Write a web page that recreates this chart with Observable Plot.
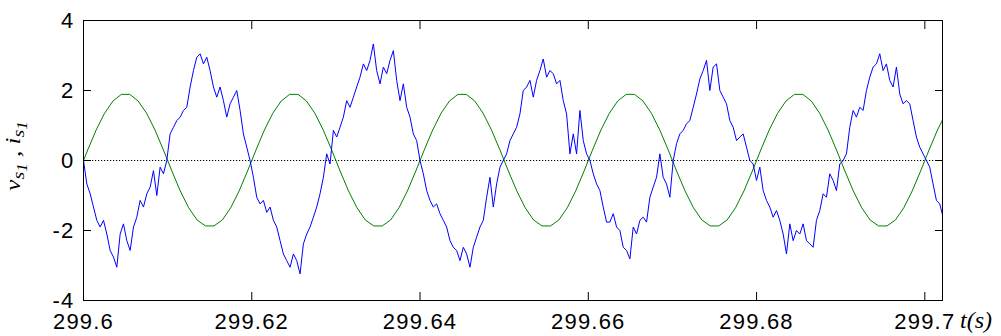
<!DOCTYPE html>
<html>
<head>
<meta charset="utf-8">
<script src="https://cdn.jsdelivr.net/npm/d3@7"></script>
<script src="https://cdn.jsdelivr.net/npm/@observablehq/plot@0.6"></script>
<style>
  html, body { margin: 0; padding: 0; background: #fff; }
  #chart svg { display: block; }
</style>
</head>
<body>
<div id="chart"></div>
<script>
// ---- tick values / labels ----
const xTicks = [299.6, 299.62, 299.64, 299.66, 299.68, 299.7];
const xTickLabels = ["299.6", "299.62", "299.64", "299.66", "299.68", "299.7"];
const yTicks = [-4, -2, 0, 2, 4];
const yTickLabels = ["-4", "-2", "0", "2", "4"];

// ---- sampling grids (time, s) ----
const blueStart = 299.6, blueStep = 0.000396;
const greenStart = 299.5995, greenStep = 0.001;

// ---- i_s1 : blue noisy current ----
const blueValues = [
  0, -0.67, -0.95, -1.33, -1.71, -1.90, -1.71, -2.10, -2.57, -2.76,
  -3.05, -2.10, -1.81, -2.29, -2.57, -1.90, -1.62, -1.14, -1.33, -0.95,
  -0.76, -0.29, -1.00, -0.19, -0.38, 0.00,
  0.76, 0.95, 1.14, 1.24, 1.43, 1.52, 2.10, 2.57, 2.95, 3.05,
  2.76, 2.95, 2.57, 2.10, 1.81, 2.10, 1.71, 1.24, 1.62, 1.81,
  2.00, 1.43, 0.76, 0.38, 0.00, -0.48, -1.05, -1.24, -1.14, -1.48,
  -1.33, -1.71, -1.90, -2.29, -2.67, -2.86, -3.05, -2.67, -2.86, -3.24,
  -2.38, -2.10, -1.90, -1.62, -1.33, -0.95, -0.48, 0.19,
  -0.10, 0.86, 0.67, 0.95, 1.24, 1.71, 1.52, 1.81, 2.10, 2.38,
  2.76, 2.57, 2.86, 3.33, 2.57, 2.19, 2.67, 2.48, 2.86, 3.14,
  2.29, 1.71, 2.19, 1.52, 1.24, 0.76, 0.57, 0.00, -0.38, -0.86,
  -1.14, -1.33, -1.24, -1.52, -1.71, -1.90, -2.29, -2.48, -2.57, -2.86,
  -2.48, -2.67, -3.05, -2.48, -2.19, -1.90, -1.71, -1.05, -0.48, -1.33,
  -0.67, -0.19, 0.00, 0.19, 0.57, 0.76, 0.95, 1.33, 2.00, 2.10,
  2.29, 1.81, 2.29, 2.57, 2.90, 2.38, 2.57, 2.48, 2.19, 2.29,
  1.71, 1.33, 0.19, 0.76, 0.19,
  1.43, 0.57, 0.19, 0.00, -0.38, -0.67, -0.86, -1.33, -1.76, -1.76,
  -1.52, -1.90, -2.00, -2.48, -2.57, -2.81, -1.90, -2.10, -1.71, -1.62,
  -1.76, -1.05, -0.76, -0.48, 0.19, -0.48, -0.67, -1.05, 0.00, 0.48,
  0.76, 0.86, 1.05, 1.14, 1.52, 1.90, 2.33, 2.57, 2.86, 2.00,
  2.67, 2.76, 2.00, 1.81, 1.62, 1.14, 0.95, 0.57, 0.67, 0.76,
  0.38, 0.00, -0.10, -0.57, -0.19, -0.86, -1.14, -1.33, -1.62, -1.43,
  -1.71, -2.10, -2.67, -1.81, -2.29, -2.00,
  -2.10, -1.81, -2.29, -2.38, -2.48, -1.71, -1.43, -0.95, -1.05, -0.38,
  -0.57, -0.86, -0.10, 0.00, 0.19, 0.95, 1.43, 1.24, 1.52, 1.43,
  2.00, 2.38, 2.67, 2.76, 3.05, 2.57, 2.76, 2.29, 2.10, 2.67,
  1.90, 1.62, 1.71, 1.62, 1.14, 0.67, 0.38, 0.19, 0.00, -0.19,
  -0.67, -1.14, -1.24, -1.62
];

// ---- v_s1 : green supply voltage ----
const greenValues = [
  -0.30, 0.30, 0.87, 1.35, 1.70, 1.89, 1.89, 1.70, 1.35, 0.87, 0.30, -0.30, -0.87, -1.35, -1.70, -1.87, -1.87, -1.70, -1.35, -0.87,
  -0.30, 0.30, 0.87, 1.35, 1.70, 1.89, 1.89, 1.70, 1.35, 0.87, 0.30, -0.30, -0.87, -1.35, -1.70, -1.87, -1.87, -1.70, -1.35, -0.87,
  -0.30, 0.30, 0.87, 1.35, 1.70, 1.89, 1.89, 1.70, 1.35, 0.87, 0.30, -0.30, -0.87, -1.35, -1.70, -1.87, -1.87, -1.70, -1.35, -0.87,
  -0.30, 0.30, 0.87, 1.35, 1.70, 1.89, 1.89, 1.70, 1.35, 0.87, 0.30, -0.30, -0.87, -1.35, -1.70, -1.87, -1.87, -1.70, -1.35, -0.87,
  -0.30, 0.30, 0.87, 1.35, 1.70, 1.89, 1.89, 1.70, 1.35, 0.87, 0.30, -0.30, -0.87, -1.35, -1.70, -1.87, -1.87, -1.70, -1.35, -0.87,
  -0.30, 0.30, 0.87, 1.35
];

const blue = blueValues.map((v, i) => ({t: blueStart + i * blueStep, v}));
const green = greenValues.map((v, i) => ({t: greenStart + i * greenStep, v}));

const fmtX = d => xTickLabels[xTicks.findIndex(t => Math.abs(t - d) < 1e-9)];
const fmtY = d => yTickLabels[yTicks.indexOf(d)];

const chart = Plot.plot({
  width: 1001,
  height: 336,
  marginLeft: 83,
  marginRight: 59,
  marginTop: 20,
  marginBottom: 36,
  x: {domain: [299.6, 299.7021], label: null},
  y: {domain: [-4, 4], label: null},
  style: {
    fontFamily: "'Liberation Sans', Arial, sans-serif",
    fontSize: "22px",
    letterSpacing: "1.2px",
    color: "black",
    background: "white",
    overflow: "visible"
  },
  marks: [
    Plot.ruleY([0], {stroke: "black", strokeWidth: 1.2, strokeDasharray: "1.2,1.8"}),
    Plot.line(green, {x: "t", y: "v", stroke: "#008000", strokeWidth: 1, clip: true}),
    Plot.line(blue, {x: "t", y: "v", stroke: "#0000ff", strokeWidth: 1, clip: true}),
    Plot.frame({stroke: "black", strokeWidth: 1}),
    Plot.axisX(xTicks, {anchor: "bottom", tickSize: -8, tickPadding: 21, tickFormat: fmtX, label: null, fill: "black", stroke: "black"}),
    Plot.axisX(xTicks, {anchor: "top", tickSize: -8, tickFormat: () => "", label: null, stroke: "black"}),
    Plot.axisY(yTicks, {anchor: "left", tickSize: -8, tickPadding: 17, tickFormat: fmtY, label: null, fill: "black", stroke: "black"}),
    Plot.axisY(yTicks, {anchor: "right", tickSize: -8, tickFormat: () => "", label: null, stroke: "black"})
  ]
});

document.getElementById("chart").append(chart);

const svg = d3.select(chart);

// y-axis label: v_{s_1} , i_{s_1}
const ylab = svg.append("text")
  .attr("transform", "translate(20,156) rotate(-90) scale(1,0.8)")
  .attr("text-anchor", "middle")
  .attr("font-family", "'Liberation Serif', 'Times New Roman', serif")
  .attr("font-style", "italic")
  .attr("font-size", 25)
  .attr("letter-spacing", 0)
  .attr("fill", "black");
ylab.append("tspan").text("v");
ylab.append("tspan").attr("font-size", 20).attr("dy", 5).text("s");
ylab.append("tspan").attr("font-size", 17).attr("dy", 4).text("1");
ylab.append("tspan").attr("font-size", 25).attr("dy", -9).text(" , ");
ylab.append("tspan").text("i");
ylab.append("tspan").attr("font-size", 20).attr("dy", 5).text("s");
ylab.append("tspan").attr("font-size", 17).attr("dy", 4).text("1");

// x-axis unit label
svg.append("text")
  .attr("x", 960)
  .attr("y", 328)
  .attr("text-anchor", "start")
  .attr("font-family", "'Liberation Serif', 'Times New Roman', serif")
  .attr("font-style", "italic")
  .attr("font-size", 24)
  .attr("letter-spacing", 0)
  .attr("fill", "black")
  .text("t(s)");
</script>
</body>
</html>
